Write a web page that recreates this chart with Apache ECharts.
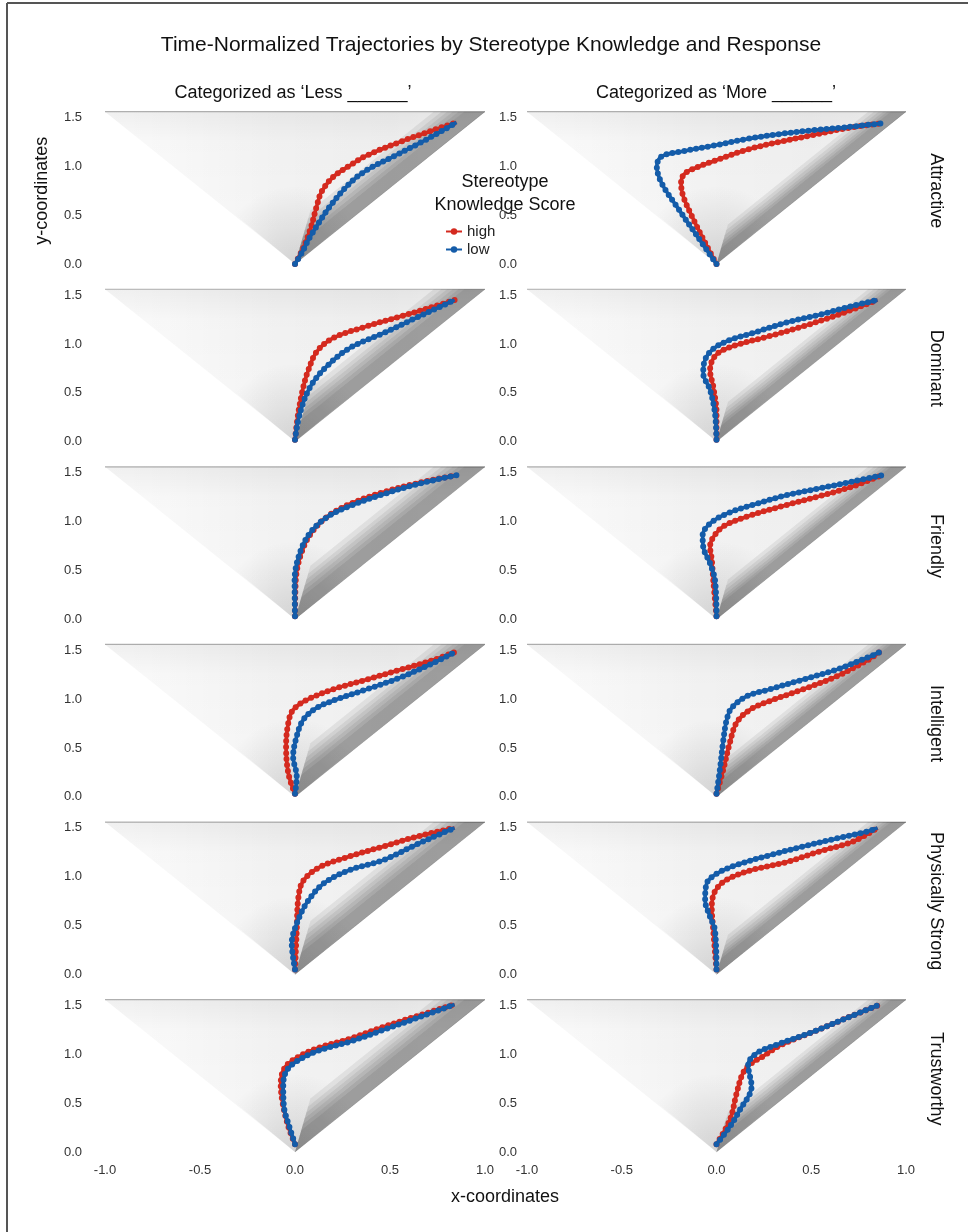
<!DOCTYPE html>
<html>
<head>
<meta charset="utf-8">
<title>Time-Normalized Trajectories</title>
<script src="https://cdn.jsdelivr.net/npm/echarts@6/dist/echarts.min.js"></script>
<style>
  html, body { margin: 0; padding: 0; background: #fff; }
  #chart { width: 968px; height: 1232px; }
</style>
</head>
<body>
<div id="chart"></div>
<script>
const traits = ['Attractive', 'Dominant', 'Friendly', 'Intelligent', 'Physically Strong', 'Trustworthy'];
const responses = ['Less', 'More'];
const groups = ['high', 'low'];
const xTicks = [-1.0, -0.5, 0.0, 0.5, 1.0];
const yTicks = [0.0, 0.5, 1.0, 1.5];

// mean trajectories [x, y]
const attractiveLessHigh = [[0,0],[0.04,0.15],[0.08,0.35],[0.114,0.59],[0.14,0.74],[0.2,0.89],[0.29,1.01],[0.377,1.11],[0.553,1.25],[0.728,1.37],[0.85,1.45]];
const attractiveLessLow  = [[0,0],[0.04,0.13],[0.08,0.28],[0.184,0.59],[0.29,0.83],[0.377,0.96],[0.517,1.1],[0.658,1.24],[0.78,1.37],[0.85,1.45]];
const attractiveMoreHigh = [[0,0],[-0.05,0.18],[-0.12,0.45],[-0.175,0.69],[-0.187,0.83],[-0.175,0.91],[-0.14,0.96],[-0.02,1.05],[0.16,1.17],[0.33,1.25],[0.51,1.32],[0.685,1.39],[0.867,1.44]];
const attractiveMoreLow  = [[0,0],[-0.1,0.28],[-0.21,0.59],[-0.29,0.83],[-0.315,1.0],[-0.29,1.1],[-0.19,1.15],[-0.02,1.21],[0.16,1.28],[0.33,1.33],[0.51,1.37],[0.685,1.4],[0.867,1.44]];

const dominantLessHigh = [[0,0.02],[0.017,0.29],[0.044,0.56],[0.07,0.73],[0.114,0.92],[0.2,1.06],[0.377,1.18],[0.553,1.28],[0.728,1.38],[0.84,1.45]];
const dominantLessLow  = [[0,0.02],[0.026,0.29],[0.08,0.56],[0.167,0.77],[0.29,0.96],[0.465,1.11],[0.64,1.27],[0.763,1.38],[0.84,1.45]];
const dominantMoreHigh = [[0,0.02],[0,0.29],[-0.017,0.56],[-0.034,0.73],[-0.02,0.84],[0.018,0.92],[0.106,0.99],[0.28,1.08],[0.456,1.18],[0.63,1.29],[0.85,1.45]];
const dominantMoreLow  = [[0,0.02],[-0.008,0.29],[-0.034,0.53],[-0.07,0.7],[-0.06,0.84],[-0.017,0.95],[0.07,1.04],[0.19,1.11],[0.37,1.22],[0.545,1.3],[0.72,1.39],[0.85,1.45]];

const friendlyLessHigh = [[0,0.03],[0.004,0.4],[0.032,0.67],[0.085,0.88],[0.17,1.05],[0.29,1.18],[0.465,1.3],[0.64,1.39],[0.85,1.475]];
const friendlyLessLow  = [[0,0.03],[-0.002,0.4],[0.024,0.67],[0.078,0.88],[0.165,1.04],[0.29,1.16],[0.465,1.28],[0.64,1.38],[0.85,1.475]];
const friendlyMoreHigh = [[0,0.03],[-0.017,0.4],[-0.025,0.61],[-0.034,0.74],[-0.017,0.84],[0.036,0.95],[0.16,1.05],[0.37,1.17],[0.545,1.26],[0.72,1.36],[0.88,1.48]];
const friendlyMoreLow  = [[0,0.03],[-0.008,0.4],[-0.034,0.57],[-0.07,0.74],[-0.073,0.86],[-0.034,0.98],[0.054,1.08],[0.19,1.17],[0.37,1.27],[0.545,1.34],[0.72,1.41],[0.877,1.475]];

const intelligentLessHigh = [[0,0.03],[-0.035,0.24],[-0.047,0.52],[-0.035,0.76],[-0.01,0.89],[0.06,0.99],[0.2,1.1],[0.377,1.2],[0.553,1.3],[0.728,1.4],[0.84,1.48]];
const intelligentLessLow  = [[0,0.03],[0.009,0.21],[-0.01,0.41],[0.009,0.62],[0.044,0.79],[0.114,0.91],[0.237,1.01],[0.377,1.1],[0.553,1.22],[0.728,1.37],[0.84,1.48]];
const intelligentMoreHigh = [[0,0.03],[0.036,0.28],[0.07,0.55],[0.106,0.76],[0.176,0.89],[0.28,0.98],[0.456,1.1],[0.63,1.23],[0.79,1.39],[0.86,1.48]];
const intelligentMoreLow  = [[0,0.03],[0.018,0.28],[0.036,0.58],[0.054,0.79],[0.08,0.91],[0.16,1.03],[0.28,1.1],[0.456,1.2],[0.63,1.3],[0.79,1.42],[0.86,1.48]];

const strongLessHigh = [[0,0.05],[0.009,0.45],[0.018,0.79],[0.044,0.96],[0.132,1.1],[0.29,1.21],[0.465,1.31],[0.64,1.41],[0.84,1.5]];
const strongLessLow  = [[0,0.05],[-0.017,0.32],[0.009,0.52],[0.061,0.73],[0.15,0.93],[0.29,1.07],[0.465,1.17],[0.64,1.33],[0.78,1.45],[0.84,1.5]];
const strongMoreHigh = [[0,0.05],[-0.017,0.45],[-0.025,0.69],[-0.008,0.85],[0.054,0.97],[0.19,1.07],[0.37,1.15],[0.545,1.26],[0.72,1.36],[0.85,1.5]];
const strongMoreLow  = [[0,0.05],[-0.008,0.45],[-0.034,0.59],[-0.06,0.76],[-0.052,0.93],[0,1.03],[0.106,1.12],[0.28,1.22],[0.456,1.31],[0.63,1.39],[0.79,1.46],[0.85,1.5]];

const trustworthyLessHigh = [[0,0.08],[-0.035,0.26],[-0.065,0.5],[-0.075,0.7],[-0.055,0.86],[0.005,0.96],[0.114,1.06],[0.29,1.16],[0.465,1.28],[0.64,1.39],[0.84,1.51]];
const trustworthyLessLow  = [[0,0.08],[-0.03,0.26],[-0.058,0.46],[-0.062,0.67],[-0.05,0.81],[-0.005,0.91],[0.114,1.03],[0.29,1.13],[0.465,1.25],[0.64,1.37],[0.84,1.51]];
const trustworthyMoreHigh = [[0,0.08],[0.071,0.33],[0.106,0.6],[0.14,0.81],[0.185,0.91],[0.246,0.98],[0.334,1.09],[0.51,1.23],[0.685,1.37],[0.85,1.5]];
const trustworthyMoreLow  = [[0,0.08],[0.071,0.26],[0.123,0.43],[0.185,0.67],[0.167,0.89],[0.211,1.01],[0.334,1.11],[0.51,1.23],[0.685,1.37],[0.85,1.5]];

// outline of the raw trajectory cloud behind each panel
const fanOutline = [[0,0],[-1,1.56],[1,1.56]];
const apexCone = [[0,0],[-0.5,0.8],[0.5,0.8]];
const topEdge = [[-1,1.56],[1,1.56]];
const directEdge = [[0,0],[1,1.56]];
// horizontal width of each layer of the dense direct-path band, left of the diagonal
const directBandLess = [0.11, 0.14, 0.17, 0.2, 0.23, 0.27];
const directBandMore = [0.08, 0.1, 0.12, 0.145, 0.17, 0.2];

const meanData = {
  Attractive: [[attractiveLessHigh, attractiveLessLow], [attractiveMoreHigh, attractiveMoreLow]],
  Dominant: [[dominantLessHigh, dominantLessLow], [dominantMoreHigh, dominantMoreLow]],
  Friendly: [[friendlyLessHigh, friendlyLessLow], [friendlyMoreHigh, friendlyMoreLow]],
  Intelligent: [[intelligentLessHigh, intelligentLessLow], [intelligentMoreHigh, intelligentMoreLow]],
  'Physically Strong': [[strongLessHigh, strongLessLow], [strongMoreHigh, strongMoreLow]],
  Trustworthy: [[trustworthyLessHigh, trustworthyLessLow], [trustworthyMoreHigh, trustworthyMoreLow]]
};

const colors = { high: '#d42a1f', low: '#145ca9' };
const font = '"Liberation Sans", Arial, sans-serif';

// panel geometry
const colLeft = [105, 527];
const colWidth = [380, 379];
const rowBase = 264;
const rowStep = 177.6;
const panelH = 146.5;

const chart = echarts.init(document.getElementById('chart'));

const grids = [], xAxes = [], yAxes = [], series = [];

function fanSeries (idx, band) {
  return {
    type: 'custom',
    xAxisIndex: idx,
    yAxisIndex: idx,
    silent: true,
    clip: false,
    z: 1,
    data: [[0, 0]],
    renderItem: function (params, api) {
      const pts = s => s.map(p => api.coord(p));
      const children = [
        {
          type: 'polygon',
          shape: { points: pts(fanOutline) },
          style: {
            fill: { type: 'linear', x: 0, y: 0, x2: 1, y2: 0, colorStops: [
              { offset: 0, color: 'rgba(0,0,0,0)' },
              { offset: 0.15, color: 'rgba(0,0,0,0.012)' },
              { offset: 0.45, color: 'rgba(0,0,0,0.04)' },
              { offset: 0.75, color: 'rgba(0,0,0,0.05)' },
              { offset: 1, color: 'rgba(0,0,0,0.03)' }
            ] }
          }
        },
        {
          type: 'polygon',
          shape: { points: pts(fanOutline) },
          style: {
            fill: { type: 'linear', x: 0, y: 0, x2: 0, y2: 1, colorStops: [
              { offset: 0, color: 'rgba(0,0,0,0.06)' },
              { offset: 0.2, color: 'rgba(0,0,0,0.02)' },
              { offset: 1, color: 'rgba(0,0,0,0)' }
            ] }
          }
        },
        {
          type: 'polygon',
          shape: { points: pts(apexCone) },
          style: {
            fill: { type: 'radial', x: 0.5, y: 1, r: 1, colorStops: [
              { offset: 0, color: 'rgba(0,0,0,0.14)' },
              { offset: 1, color: 'rgba(0,0,0,0)' }
            ] }
          }
        }
      ];
      // band layers: parallel to the diagonal, narrowing into the start point
      band.forEach(d => {
        children.push({
          type: 'polygon',
          shape: { points: pts([[0, 0], [1, 1.56], [1 - d, 1.56], [0.3 * d, 1.56 * 1.3 * d]]) },
          style: { fill: 'rgba(0,0,0,0.066)' }
        });
      });
      children.push(
        {
          type: 'polyline',
          shape: { points: pts(topEdge) },
          style: { stroke: 'rgba(0,0,0,0.3)', lineWidth: 1.2, fill: null }
        },
        {
          type: 'polyline',
          shape: { points: pts(directEdge) },
          style: { stroke: 'rgba(0,0,0,0.12)', lineWidth: 1, fill: null }
        }
      );
      return { type: 'group', children: children };
    }
  };
}

function meanSeries (name, data, idx) {
  const color = colors[name];
  return [{
    name: name,
    type: 'line',
    xAxisIndex: idx,
    yAxisIndex: idx,
    data: data,
    smooth: 0.35,
    clip: false,
    silent: true,
    showSymbol: false,
    symbol: 'circle',
    symbolSize: 6,
    itemStyle: { color: color },
    lineStyle: { color: color, width: 3.6 },
    z: 3
  }, {
    name: name + ' steps',
    type: 'line',
    xAxisIndex: idx,
    yAxisIndex: idx,
    data: data,
    smooth: 0.35,
    clip: false,
    silent: true,
    showSymbol: false,
    lineStyle: { color: color, width: 6, type: [0, 6], cap: 'round' },
    z: 3
  }];
}

traits.forEach((trait, r) => {
  responses.forEach((resp, c) => {
    const idx = r * 2 + c;
    const y0 = rowBase + r * rowStep;
    grids.push({ left: colLeft[c], width: colWidth[c], top: y0 - panelH, height: panelH });
    xAxes.push({
      type: 'value', gridIndex: idx, min: -1, max: 1, interval: 0.5,
      axisLine: { show: false }, axisTick: { show: false }, splitLine: { show: false },
      axisLabel: {
        show: r === traits.length - 1, margin: 12, fontSize: 13, color: '#333', fontFamily: font,
        formatter: v => v.toFixed(1), showMinLabel: true, showMaxLabel: true
      }
    });
    yAxes.push({
      type: 'value', gridIndex: idx, min: 0, max: 1.5, interval: 0.5,
      axisLine: { show: false }, axisTick: { show: false }, splitLine: { show: false },
      axisLabel: {
        margin: c === 0 ? 23 : 10, fontSize: 13, color: '#333', fontFamily: font,
        formatter: v => v.toFixed(1)
      }
    });
    series.push(fanSeries(idx, c === 0 ? directBandLess : directBandMore));
    groups.forEach((g, gi) => {
      meanSeries(g, meanData[trait][c][gi], idx).forEach(s => series.push(s));
    });
  });
});

const texts = [
  { x: 491, y: 45, text: 'Time-Normalized Trajectories by Stereotype Knowledge and Response', size: 21 },
  { x: 293, y: 93, text: 'Categorized as \u2018Less ______\u2019', size: 18 },
  { x: 716, y: 93, text: 'Categorized as \u2018More ______\u2019', size: 18 },
  { x: 505, y: 182, text: 'Stereotype', size: 18 },
  { x: 505, y: 205, text: 'Knowledge Score', size: 18 },
  { x: 505, y: 1197, text: 'x-coordinates', size: 18 },
  { x: 42, y: rowBase - panelH / 2, text: 'y-coordinates', size: 18, rot: Math.PI / 2 }
];
traits.forEach((t, r) => {
  texts.push({ x: 936, y: rowBase + r * rowStep - panelH / 2, text: t, size: 18, rot: -Math.PI / 2 });
});

const graphic = texts.map(t => ({
  type: 'text',
  x: t.x,
  y: t.y,
  rotation: t.rot || 0,
  style: {
    text: t.text,
    font: t.size + 'px ' + font,
    fill: '#111',
    textAlign: 'center',
    textVerticalAlign: 'middle'
  }
}));
graphic.push(
  { type: 'line', shape: { x1: 7, y1: 3, x2: 7, y2: 1232 }, style: { stroke: '#555', lineWidth: 2 } },
  { type: 'line', shape: { x1: 7, y1: 3, x2: 968, y2: 3 }, style: { stroke: '#555', lineWidth: 2 } }
);

chart.setOption({
  backgroundColor: '#fff',
  animation: false,
  textStyle: { fontFamily: font },
  legend: {
    data: groups,
    orient: 'vertical',
    left: 440,
    top: 219,
    itemWidth: 16,
    itemHeight: 8,
    itemGap: 3,
    selectedMode: false,
    textStyle: { fontSize: 15, color: '#222', fontFamily: font }
  },
  grid: grids,
  xAxis: xAxes,
  yAxis: yAxes,
  series: series,
  graphic: graphic
});
</script>
</body>
</html>
